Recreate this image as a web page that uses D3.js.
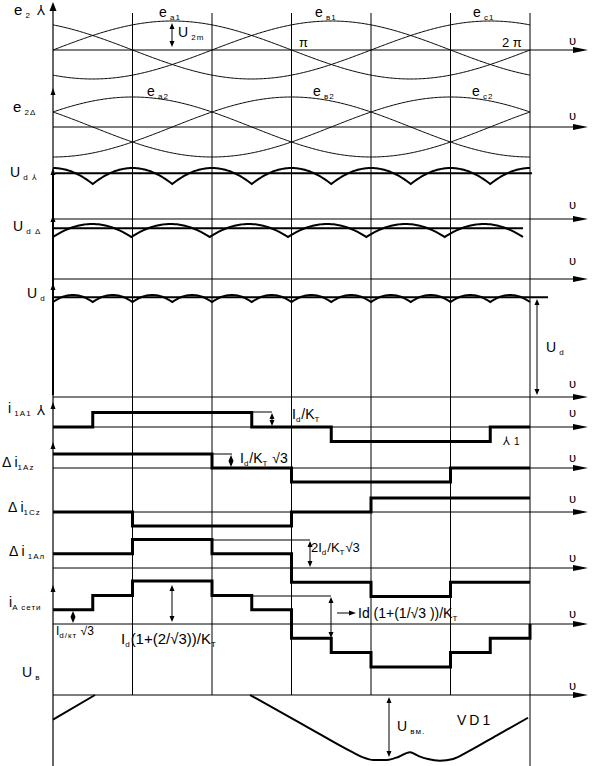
<!DOCTYPE html>
<html>
<head>
<meta charset="utf-8">
<script src="https://cdn.jsdelivr.net/npm/d3@7"></script>
<style>
  body { margin: 0; background: #fff; }
  text { font-family: "Liberation Sans", Arial, sans-serif; fill: #000; }
</style>
</head>
<body>
<svg id="chart" width="593" height="766"></svg>
<script>
// ---------------------------------------------------------------- data (angles in degrees)
var gridDeg = [60, 120, 180, 240, 300, 360]

// secondary e.m.f. of the star winding: phase shift of each sine
var eStarNames = ["a1", "в1", "c1"]
var eStarPhase = [0, -120, 120]
// secondary e.m.f. of the delta winding
var eDeltaNames = ["a2", "в2", "c2"]
var eDeltaPhase = [30, -90, 150]

// rectified voltage: centres of the pulses (6 pulse star, 6 pulse delta, 12 pulse sum)
var udStarCentres = [0, 60, 120, 180, 240, 300, 360]
var udDeltaCentres = [-30, 30, 90, 150, 210, 270, 330, 390]
var udSumCentres = [-15, 15, 45, 75, 105, 135, 165, 195, 225, 255, 285, 315, 345, 375]
var udAverage = [0.955, 0.955, 0.989]

// currents, in units of Id/Kt (steps start at the break angles)
var iA1Breaks = [0, 30, 150, 210, 330], iA1Vals = [0, 1, 0, -1, 0]
var iAzBreaks = [0, 120, 180, 300], iAzVals = [1, 0, -1, 0]
var iCzBreaks = [0, 60, 180, 240], iCzVals = [0, -1, 0, 1]
var iAlBreaks = [0, 60, 120, 180, 240, 300], iAlVals = [1, 2, 1, -1, -2, -1]
var iNetBreaks = [0, 30, 60, 90, 120, 150, 180, 210, 240, 270, 300, 330]
var iNetVals = [1, 2, 3, 3, 2, 1, -1, -2, -3, -3, -2, -1]

// voltage on the valve VD1, fraction of U_вм
var uvStart = [[0, -0.38], [31.7, 0]]
var uvMain = [[148.7, 0], [190, -0.47], [226, -0.88], [234, -0.96], [242, -1.0], [252, -1.0],
              [261, -0.95], [269.4, -0.88], [276, -0.94], [283, -0.985], [292, -1.01], [302, -0.985],
              [312.5, -0.88], [335, -0.62], [358.5, -0.35]]

// ---------------------------------------------------------------- layout
var svg = d3.select("#chart")
var x = d3.scaleLinear().domain([0, 360]).range([53, 530])
var xD = d3.scaleLinear().domain([0, 360]).range([53, 523])
var rad = Math.PI / 180
var deg = d3.range(0, 360.5, 1)

var axisY = [50, 127, 219, 279, 397, 427, 468, 512, 568, 624, 695]
var upsOff = [5, 7, 10, 14, 9, 10, 6, 9, 6, 6, 5]
var vArrows = [2, 88, 168, 215, 283, 402, 442, 585]

function tri(g, px, py, dir, w, h) {
  var p
  if (dir == "up") p = [[px, py], [px - w, py + h], [px + w, py + h]]
  else if (dir == "down") p = [[px, py], [px - w, py - h], [px + w, py - h]]
  else p = [[px, py], [px - h, py - w], [px - h, py + w]]
  g.append("path").attr("d", "M" + p.join("L") + "Z").attr("fill", "#000")
}

function dblArrow(px, y1, y2) {
  svg.append("line").attr("x1", px).attr("x2", px).attr("y1", y1 + 2).attr("y2", y2 - 2)
    .attr("stroke", "#000").attr("stroke-width", 1)
  tri(svg, px, y1, "up", 2.5, 6)
  tri(svg, px, y2, "down", 2.5, 6)
}

function label(px, py, parts, size) {
  var t = svg.append("text").attr("x", px).attr("y", py).style("font-size", (size || 13) + "px")
  var shift = 0
  parts.forEach(function (p) {
    var s = t.append("tspan").text(p[0])
    var want = 0
    if (p[1] == "sub") { want = 3; s.style("font-size", "8px").style("letter-spacing", "1px") }
    if (want != shift) { s.attr("dy", want - shift); shift = want }
  })
  return t
}

// ---------------------------------------------------------------- grid & axes
svg.selectAll(".grid").data(gridDeg).join("line").attr("class", "grid")
  .attr("x1", d => x(d)).attr("x2", d => x(d))
  .attr("y1", 13).attr("y2", d => d == 360 ? 766 : 695)
  .attr("stroke", "#000").attr("stroke-width", 1)

svg.append("line").attr("x1", 53).attr("x2", 53).attr("y1", 4).attr("y2", 766)
  .attr("stroke", "#000").attr("stroke-width", 1.2)
svg.append("line").attr("x1", 53).attr("x2", 53).attr("y1", 170).attr("y2", 395)
  .attr("stroke", "#000").attr("stroke-width", 2)
vArrows.forEach(function (v, i) { tri(svg, 53, v, "up", i == 0 ? 3.5 : 2.5, i == 0 ? 9 : 7) })

svg.selectAll(".hax").data(axisY).join("line").attr("class", "hax")
  .attr("x1", 53).attr("x2", 580).attr("y1", d => d).attr("y2", d => d)
  .attr("stroke", "#000").attr("stroke-width", 1)
axisY.forEach(function (v, i) {
  tri(svg, 588, v, "right", 3, 15)
  svg.append("text").attr("x", 569).attr("y", v - upsOff[i]).style("font-size", "13px").text("υ")
})

// ---------------------------------------------------------------- e2 sines
var yE1 = d3.scaleLinear().domain([-1, 1]).range([79, 21])
var yE2 = d3.scaleLinear().domain([-1, 1]).range([157, 97])
eStarPhase.forEach(function (ph) {
  svg.append("path").attr("fill", "none").attr("stroke", "#000").attr("stroke-width", 1)
    .attr("d", d3.line().x(d => x(d)).y(d => yE1(Math.sin((d + ph) * rad)))(deg))
})
eDeltaPhase.forEach(function (ph) {
  svg.append("path").attr("fill", "none").attr("stroke", "#000").attr("stroke-width", 1)
    .attr("d", d3.line().x(d => x(d)).y(d => yE2(Math.sin((d + ph) * rad)))(deg))
})

// ---------------------------------------------------------------- rectified voltages
function envelope(centres, a) {
  return d3.max(centres, c => Math.abs(a - c) <= 90 ? Math.cos((a - c) * rad) : -1)
}
var yUdY = d3.scaleLinear().domain([0.866, 1]).range([184, 168])
var yUdD = d3.scaleLinear().domain([0.866, 1]).range([237, 224])
var yUd = d3.scaleLinear().domain([0.966, 1]).range([302, 295])
var ripple = [
  { c: udStarCentres, sx: x, sy: yUdY, avg: udAverage[0], ax: [55, 532] },
  { c: udDeltaCentres, sx: xD, sy: yUdD, avg: udAverage[1], ax: [53, 523] },
  { c: udSumCentres, sx: x, sy: yUd, avg: udAverage[2], ax: [53, 548] }
]
ripple.forEach(function (r) {
  svg.append("path").attr("fill", "none").attr("stroke", "#000").attr("stroke-width", 2)
    .attr("d", d3.line().x(d => r.sx(d)).y(d => r.sy(envelope(r.c, d)))(deg))
  svg.append("line").attr("x1", r.ax[0]).attr("x2", r.ax[1])
    .attr("y1", r.sy(r.avg)).attr("y2", r.sy(r.avg))
    .attr("stroke", "#000").attr("stroke-width", 2)
})

// ---------------------------------------------------------------- step currents
function stepWave(breaks, vals, axis, unit, endVal) {
  var sy = d3.scaleLinear().domain([-1, 1]).range([axis + unit, axis - unit])
  var pts = breaks.map((b, i) => [b, vals[i]])
  pts.push([360, vals[vals.length - 1]])
  if (endVal !== undefined) pts.push([360, endVal])
  svg.append("path").attr("fill", "none").attr("stroke", "#000").attr("stroke-width", 3)
    .attr("d", d3.line().x(d => x(d[0])).y(d => sy(d[1])).curve(d3.curveStepAfter)(pts))
}
stepWave(iA1Breaks, iA1Vals, 427, 14.5)
stepWave(iAzBreaks, iAzVals, 468, 14)
stepWave(iCzBreaks, iCzVals, 512, 14)
stepWave(iAlBreaks, iAlVals, 568, 14.3)
stepWave(iNetBreaks, iNetVals, 624, 14.3, 0)

// ---------------------------------------------------------------- valve voltage
var yUv = d3.scaleLinear().domain([-1, 0]).range([760, 695])
;[uvStart, uvMain].forEach(function (seg) {
  svg.append("path").attr("fill", "none").attr("stroke", "#000").attr("stroke-width", 2)
    .attr("d", d3.line().x(d => x(d[0])).y(d => yUv(d[1])).curve(d3.curveMonotoneX)(seg))
})

// ---------------------------------------------------------------- annotations
function hLine(x1, x2, yy) {
  svg.append("line").attr("x1", x1).attr("x2", x2).attr("y1", yy).attr("y2", yy)
    .attr("stroke", "#000").attr("stroke-width", 1)
}
dblArrow(172, 23, 47)
hLine(252, 272, 412); dblArrow(272, 413, 426)
hLine(212, 232, 454); dblArrow(231, 455, 467)
hLine(212, 310, 540); dblArrow(310, 541, 567)
dblArrow(73, 611, 623)
dblArrow(172, 585, 622)
hLine(252, 331, 596); dblArrow(331, 597, 638)
dblArrow(537, 299, 395)
dblArrow(389, 697, 757)
hLine(337, 350, 613); tri(svg, 356, 613, "right", 2.5, 7)

// left side names
label(14, 15, [["e", "m"], [" 2", "sub"]], 15)
svg.append("text").attr("x", 37).attr("y", 15).style("font-size", "14px").text("⅄")
label(13, 112, [["e", "m"], [" 2Δ", "sub"]], 15)
label(10, 177, [["U", "m"], [" d ⅄", "sub"]], 14)
label(13, 231, [["U", "m"], [" d Δ", "sub"]], 14)
label(27, 298, [["U", "m"], [" d", "sub"]], 14)
label(8, 413, [["i", "m"], [" 1A1", "sub"]], 14)
svg.append("text").attr("x", 37).attr("y", 415).style("font-size", "14px").text("⅄")
label(2, 467, [["Δ ", "m"], ["i", "m"], ["1Az", "sub"]], 14)
label(8, 512, [["Δ ", "m"], ["i", "m"], ["1Cz", "sub"]], 14)
label(9, 556, [["Δ ", "m"], ["i", "m"], [" 1Aл", "sub"]], 14)
label(9, 607, [["i", "m"], ["A сети", "sub"]], 14)
label(22, 677, [["U", "m"], ["  в", "sub"]], 14)

// curve names and values
label(159, 17, [["e", "m"], [" a1", "sub"]], 14)
label(178, 37, [["U", "m"], [" 2m", "sub"]], 14)
label(315, 17, [["e", "m"], [" в1", "sub"]], 14)
label(473, 17, [["e", "m"], [" c1", "sub"]], 14)
label(299, 47, [["π", "m"]], 13)
label(502, 47, [["2 π", "m"]], 13)
label(147, 96, [["e", "m"], [" a2", "sub"]], 14)
label(313, 96, [["e", "m"], [" в2", "sub"]], 14)
label(472, 96, [["e", "m"], [" c2", "sub"]], 14)
label(546, 352, [["U", "m"], [" d", "sub"]], 14)
label(292, 419, [["I", "m"], ["d", "sub"], ["/K", "m"], ["T", "sub"]], 14)
svg.append("text").attr("x", 503).attr("y", 445).style("font-size", "12px").text("⅄")
svg.append("text").attr("x", 514).attr("y", 445).style("font-size", "10px").text("1")
label(240, 463, [["I", "m"], ["d", "sub"], ["/K", "m"], ["T", "sub"], [" √3", "m"]], 14)
label(311, 552, [["2I", "m"], ["d", "sub"], ["/K", "m"], ["T", "sub"], ["√3", "m"]], 13)
label(56, 635, [["I", "m"], ["d/кт", "sub"], [" √3", "m"]], 12)
label(121, 644, [["I", "m"], ["d", "sub"], ["(1+(2/√3))/K", "m"], ["T", "sub"]], 15)
label(358, 618, [["Id (1+(1/√3 ))/K", "m"], ["T", "sub"]], 14)
label(397, 731, [["U", "m"], ["  вм.", "sub"]], 14)
label(457, 725, [["VD1", "m"]], 14).style("letter-spacing", "3px")
</script>
</body>
</html>
